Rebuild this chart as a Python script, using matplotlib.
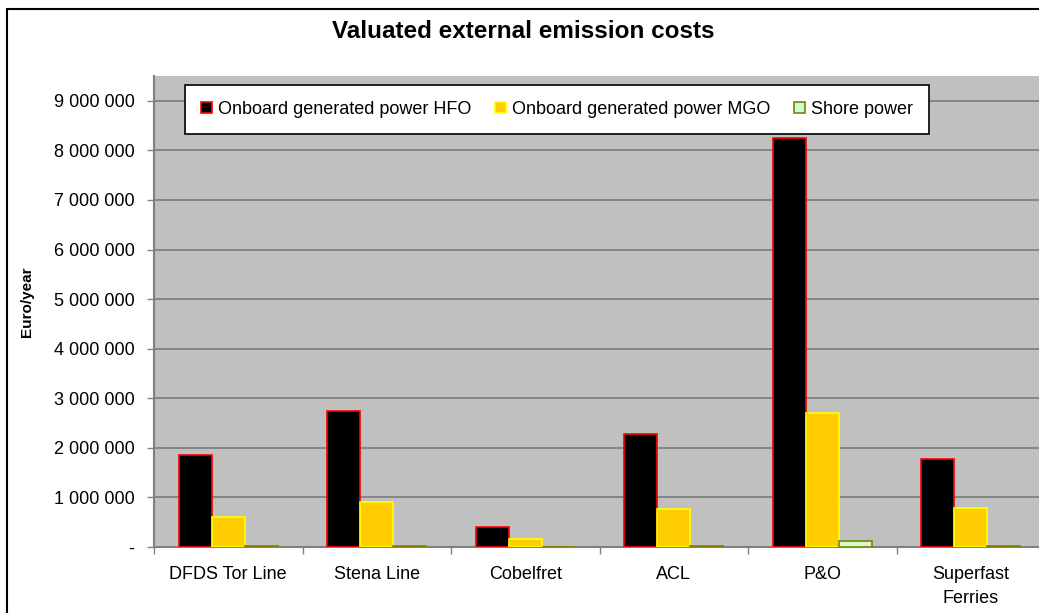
import numpy as np
import matplotlib
matplotlib.use("Agg")
import matplotlib.pyplot as plt
from matplotlib.ticker import FuncFormatter, FixedLocator
from matplotlib.patches import Rectangle

# data (Euro/year)
companies = ["DFDS Tor Line", "Stena Line", "Cobelfret", "ACL", "P&O", "Superfast\nFerries"]
hfo = [1860000, 2740000, 410000, 2280000, 8250000, 1780000]
mgo = [600000, 910000, 160000, 760000, 2700000, 790000]
shore = [30000, 30000, 0, 30000, 130000, 30000]
series_names = ["Onboard generated power HFO", "Onboard generated power MGO", "Shore power"]

plt.rcParams["font.family"] = ["Liberation Sans", "DejaVu Sans"]
plt.rcParams["font.size"] = 13

W, H = 1039, 613
fig = plt.figure(figsize=(W / 100, H / 100), dpi=100)
fig.patch.set_facecolor("white")

# outer chart frame (cut off at right/bottom like the original)
fig.add_artist(Rectangle((7 / W, -0.1), 1.2, 1 - 9 / H + 0.1, transform=fig.transFigure,
                         fill=False, edgecolor="black", linewidth=1.5))

left, right, top, bottom = 154, 1045, 76, 547
ax = fig.add_axes([left / W, 1 - bottom / H, (right - left) / W, (bottom - top) / H])
ax.set_facecolor("#C0C0C0")

x = np.arange(len(companies))
w = 0.222
ax.bar(x - w, hfo, w, color="black", edgecolor="red", linewidth=1.2, label=series_names[0], zorder=3)
ax.bar(x, mgo, w, color="#FFCC00", edgecolor="#FFFF00", linewidth=1.2, label=series_names[1], zorder=3)
ax.bar(x + w, shore, w, color="#CCFFCC", edgecolor="#808000", linewidth=1.2, label=series_names[2], zorder=3)

ax.set_xlim(-0.5, len(companies) - 0.5)
ax.set_ylim(0, 9500000)
ax.set_yticks(np.arange(0, 9000001, 1000000))
ax.yaxis.set_major_formatter(FuncFormatter(lambda v, p: "-" if v == 0 else f"{int(v):,}".replace(",", " ")))
ax.yaxis.grid(True, color="#808080", linewidth=1.3, zorder=1)
ax.set_axisbelow(True)

ax.set_xticks(x)
ax.set_xticklabels(companies, linespacing=1.5)
ax.xaxis.set_minor_locator(FixedLocator(np.arange(-0.5, len(companies), 1)))
ax.tick_params(axis="x", which="major", length=0, pad=14)
ax.tick_params(axis="x", which="minor", length=5, color="#808080", width=1)
ax.tick_params(axis="y", length=5, color="#808080", width=1, pad=9)

for s in ["top", "right"]:
    ax.spines[s].set_visible(False)
ax.spines["left"].set_color("#808080")
ax.spines["bottom"].set_color("#808080")
ax.spines["left"].set_linewidth(1.5)
ax.spines["bottom"].set_linewidth(1.5)

ax.set_ylabel("Euro/year", fontweight="bold", fontsize=11)
ax.yaxis.set_label_coords((34 - left) / (right - left), (bottom - 302) / (bottom - top))

fig.text(523 / W, 1 - 32 / H, "Valuated external emission costs", ha="center", va="center",
         fontsize=17.5, fontweight="bold")

leg = ax.legend(loc="upper left", bbox_to_anchor=(184.7 / W, 1 - 84.7 / H), bbox_transform=fig.transFigure,
                ncol=3, frameon=True, fancybox=False, shadow=False, fontsize=13,
                handlelength=0.6, handleheight=0.6, handletextpad=0.35, columnspacing=1.3,
                borderpad=0.9, borderaxespad=0)
leg.get_frame().set_edgecolor("black")
leg.get_frame().set_linewidth(1.2)
leg.get_frame().set_facecolor("white")
leg.get_frame().set_alpha(1)

fig.savefig("out.png", dpi=100)
